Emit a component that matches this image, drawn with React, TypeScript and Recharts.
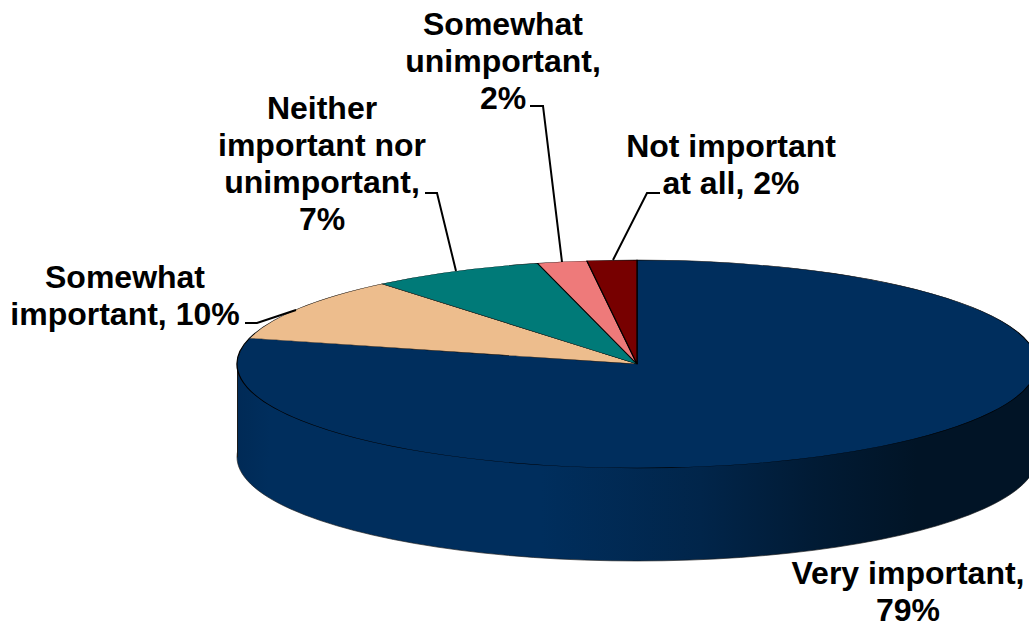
import React from 'react'
import { PieChart, Pie, Cell } from 'recharts'

const CATEGORIES = ['Very important', 'Somewhat important', 'Neither important nor unimportant', 'Somewhat unimportant', 'Not important at all']
const VALUES = [79, 10, 7, 2, 2]
const COLORS = ['#002e5d', '#edbd8d', '#007a78', '#ee7a7a', '#770000']

const LABEL_LINES = [
  ['Very important,', '79%'],
  ['Somewhat', 'important, 10%'],
  ['Neither', 'important nor', 'unimportant,', '7%'],
  ['Somewhat', 'unimportant,', '2%'],
  ['Not important', 'at all, 2%'],
]
const LABEL_POS = [
  { x: 908, y: 584 },
  { x: 125, y: 288 },
  { x: 322, y: 119 },
  { x: 503, y: 35 },
  { x: 731, y: 157 },
]
const LEADERS = [
  '245,323 257,323 296,310',
  '425,193 437,193 456,271',
  '530,106 543,106 562,262',
  '660,193 647,193 613,260',
]

const data = CATEGORIES.map((name, i) => ({ name, value: VALUES[i] }))

// pie geometry: a circle squashed to an ellipse to fake the 3D tilt
const CX = 637
const CY = 364
const R = 400
const SQUASH = 0.26
const DEPTH = 93
const BOX = 1000

const WALL_STOPS: [number, string][] = [
  [0, '#002a56'],
  [0.04, '#002e5d'],
  [0.38, '#002e5d'],
  [0.58, '#01254a'],
  [0.72, '#011b35'],
  [0.85, '#011426'],
  [1, '#011426'],
]
const wallCss = WALL_STOPS.map(([o, c]) => `${c} ${o * 100}%`).join(', ')

function squashed(top: number): React.CSSProperties {
  return {
    position: 'absolute',
    left: CX - BOX / 2,
    top: top - BOX / 2,
    width: BOX,
    height: BOX,
    transform: `scaleY(${SQUASH})`,
    transformOrigin: 'center center',
  }
}

export default function App() {
  return (
    <div style={{ position: 'fixed', left: 0, top: 0, width: 1029, height: 623, overflow: 'hidden', background: '#fff' }}>
      <style>{'.recharts-sector{vector-effect:non-scaling-stroke}'}</style>

      {/* bottom rim of the disc */}
      <div style={squashed(CY + DEPTH)}>
        <PieChart width={BOX} height={BOX} margin={{ top: 0, right: 0, bottom: 0, left: 0 }}>
          <defs>
            <linearGradient id="wallGrad" x1="0" y1="0" x2="1" y2="0">
              {WALL_STOPS.map(([o, c]) => (
                <stop key={o} offset={o} stopColor={c} />
              ))}
            </linearGradient>
          </defs>
          <Pie
            data={[{ name: 'wall', value: 1 }]}
            dataKey="value"
            cx={BOX / 2}
            cy={BOX / 2}
            outerRadius={R}
            startAngle={90}
            endAngle={-270}
            fill="url(#wallGrad)"
            stroke="#1a1a1a"
            strokeWidth={1}
            isAnimationActive={false}
          />
        </PieChart>
      </div>

      {/* side wall between the two ellipses */}
      <div
        style={{
          position: 'absolute',
          left: CX - R,
          top: CY,
          width: R * 2,
          height: DEPTH,
          background: `linear-gradient(to right, ${wallCss})`,
          borderLeft: '1px solid #1a1a1a',
          boxSizing: 'border-box',
        }}
      />

      {/* top face */}
      <div style={squashed(CY)}>
        <PieChart width={BOX} height={BOX} margin={{ top: 0, right: 0, bottom: 0, left: 0 }}>
          <Pie
            data={data}
            dataKey="value"
            cx={BOX / 2}
            cy={BOX / 2}
            outerRadius={R}
            startAngle={90}
            endAngle={-270}
            stroke="#000"
            strokeWidth={1.3}
            isAnimationActive={false}
          >
            {data.map((d, i) => (
              <Cell key={d.name} fill={COLORS[i]} />
            ))}
          </Pie>
        </PieChart>
      </div>

      {/* labels + leader lines */}
      <svg width={1029} height={623} style={{ position: 'absolute', left: 0, top: 0 }}>
        {LEADERS.map(points => (
          <polyline key={points} points={points} fill="none" stroke="#000" strokeWidth={2} />
        ))}
        {LABEL_LINES.map((lines, i) => (
          <text
            key={i}
            textAnchor="middle"
            fontFamily="'Liberation Sans', Arial, sans-serif"
            fontWeight={700}
            fontSize={32}
            fill="#000"
          >
            {lines.map((line, j) => (
              <tspan key={j} x={LABEL_POS[i].x} y={LABEL_POS[i].y + j * 37}>
                {line}
              </tspan>
            ))}
          </text>
        ))}
      </svg>
    </div>
  )
}
